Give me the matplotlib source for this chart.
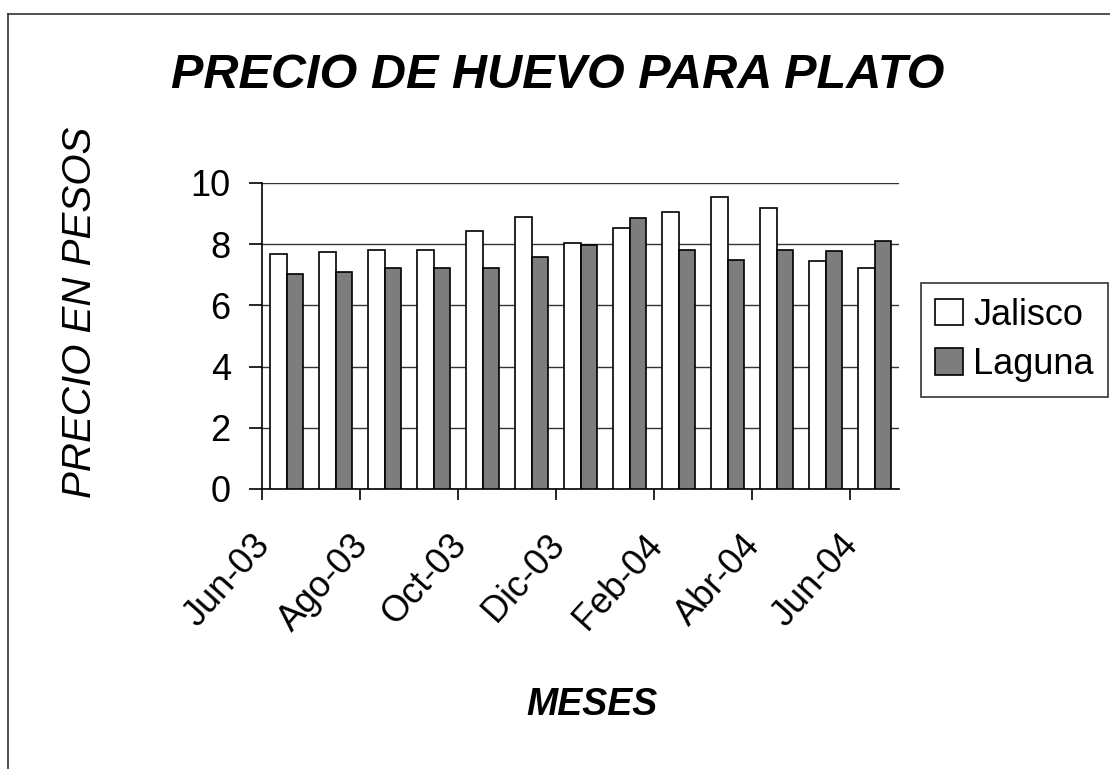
import numpy as np
import matplotlib
matplotlib.use("Agg")
import matplotlib.pyplot as plt
from matplotlib.lines import Line2D
from matplotlib.transforms import ScaledTranslation

plt.rcParams['font.family'] = ['Liberation Sans', 'DejaVu Sans']

meses = ['Jun-03', 'Jul-03', 'Ago-03', 'Sep-03', 'Oct-03', 'Nov-03', 'Dic-03',
         'Ene-04', 'Feb-04', 'Mar-04', 'Abr-04', 'May-04', 'Jun-04']
jalisco = [7.68, 7.75, 7.81, 7.81, 8.44, 8.90, 8.05, 8.54, 9.05, 9.55, 9.17, 7.46, 7.21]
laguna = [7.03, 7.10, 7.23, 7.23, 7.23, 7.59, 7.99, 8.85, 7.81, 7.49, 7.80, 7.79, 8.11]

fig = plt.figure(figsize=(11.1, 7.69), dpi=100)
ax = fig.add_axes([262 / 1110, 1 - 489 / 769, 637 / 1110, 306 / 769])

x = np.arange(len(meses))
w = 0.33
ax.bar(x - w / 2, jalisco, w, color='white', edgecolor='black', linewidth=1.2,
       label='Jalisco', zorder=3)
ax.bar(x + w / 2, laguna, w, color='#7d7d7d', edgecolor='black', linewidth=1.2,
       label='Laguna', zorder=3)

ax.set_xlim(-0.5, len(meses) - 0.5)
ax.set_ylim(0, 10)
ax.set_yticks([0, 2, 4, 6, 8, 10])
ax.yaxis.grid(True, color='#333333', linewidth=1)
ax.set_axisbelow(True)

for s in ['top', 'right']:
    ax.spines[s].set_visible(False)
for s in ['left', 'bottom']:
    ax.spines[s].set_linewidth(1.2)

# etiquetas cada dos meses, marcas en los limites de cada par
ax.set_xticks(x[::2])
ax.set_xticklabels(meses[::2], rotation=48, ha='right', va='top',
                   rotation_mode='anchor', fontsize=26)
ax.set_xticks(np.arange(-0.5, len(meses) - 1, 2), minor=True)
ax.tick_params(axis='x', which='major', length=0, pad=28)
ax.tick_params(axis='x', which='minor', length=8, width=1.2, direction='out')
ax.tick_params(axis='y', length=9.5, width=1.2, direction='out', pad=13, labelsize=26)
off = ScaledTranslation(-35 / 100, 0, fig.dpi_scale_trans)
for lbl in ax.get_xticklabels():
    lbl.set_transform(lbl.get_transform() + off)

fig.text(558 / 1110, 1 - 75 / 769, 'PRECIO DE HUEVO PARA PLATO', fontsize=35,
         fontstyle='italic', fontweight='bold', ha='center', va='center')
fig.text(80 / 1110, 1 - 312 / 769, 'PRECIO EN PESOS', fontsize=29,
         fontstyle='italic', rotation=90, ha='center', va='center')
fig.text(592 / 1110, 1 - 705 / 769, 'MESES', fontsize=27,
         fontstyle='italic', fontweight='bold', ha='center', va='center')

leg = ax.legend(loc='center left', bbox_to_anchor=(921 / 1110, 1 - 340 / 769),
                bbox_transform=fig.transFigure, fontsize=26, frameon=True,
                fancybox=False, edgecolor='black', handlelength=0.75,
                handleheight=0.75, handletextpad=0.3, borderpad=0.4,
                labelspacing=0.4, borderaxespad=0)
leg.get_frame().set_linewidth(1.2)

# marco del area del grafico
fig.add_artist(Line2D([8 / 1110, 8 / 1110], [0, 1 - 14 / 769], color='#333333',
                      linewidth=1.2, transform=fig.transFigure))
fig.add_artist(Line2D([8 / 1110, 1], [1 - 14 / 769, 1 - 14 / 769], color='#333333',
                      linewidth=1.2, transform=fig.transFigure))

fig.savefig('out.png', dpi=100, facecolor='white')
